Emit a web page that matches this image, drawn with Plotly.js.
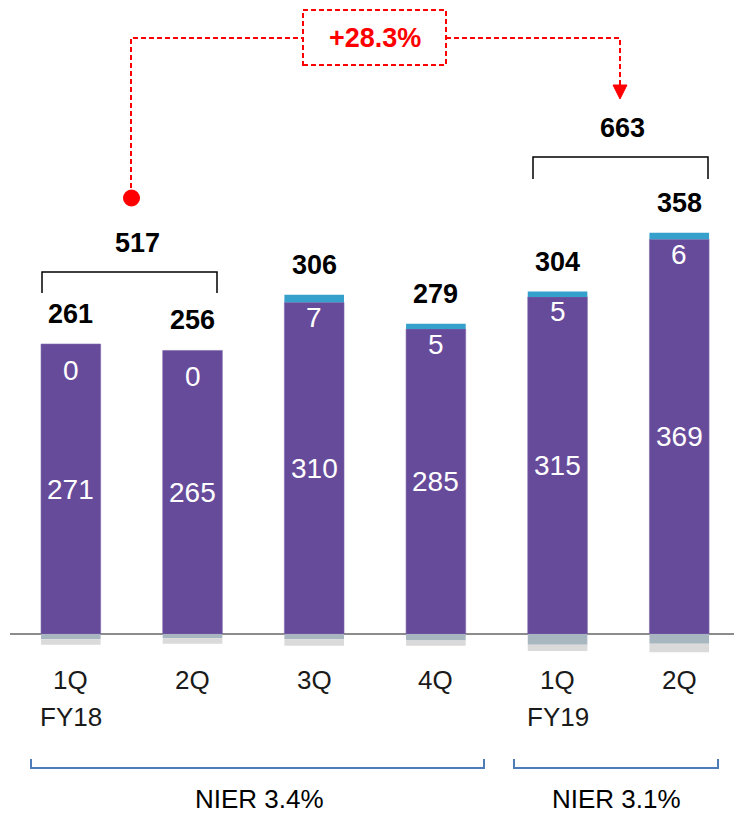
<!DOCTYPE html>
<html>
<head>
<meta charset="utf-8">
<script src="https://cdn.plot.ly/plotly-3.0.1.min.js"></script>
<style>html,body{margin:0;padding:0;background:#fff;}#chart{width:734px;height:813px;}</style>
</head>
<body>
<div id="chart"></div>
<script>
// ---- data ----
var quarters = ['1Q', '2Q', '3Q', '4Q', '1Q', '2Q'];
var fiscalYears = ['FY18', '', '', '', 'FY19', ''];
var mainValues = [271, 265, 310, 285, 315, 369];
var topValues = [0, 0, 7, 5, 5, 6];
var negValuesA = [-5, -4, -5, -6, -10, -9];
var negValuesB = [-5, -5, -6, -5, -6, -8];
var totals = [261, 256, 306, 279, 304, 358];
var halfYearTotals = [517, 663];
var growthLabel = '+28.3%';
var nierLabels = ['NIER 3.4%', 'NIER 3.1%'];

// ---- layout helpers ----
var W = 734, H = 813, ML = 10, MT = 0, PW = 724, PH = 660;
function px(x) { return (x - ML) / PW; }
function py(y) { return (MT + PH - y) / PH; }

var xs = quarters.map(function (_, i) { return i; });
var FONT = 'Liberation Sans, Arial, Helvetica, sans-serif';

var traces = [
  { type: 'bar', x: xs, y: mainValues, marker: { color: '#674b9b', line: { color: '#7d68ab', width: 0.6 } }, width: 0.49, hoverinfo: 'none' },
  { type: 'bar', x: xs, y: topValues, marker: { color: '#35a0cb' }, width: 0.49, hoverinfo: 'none' },
  { type: 'bar', x: xs, y: negValuesA, marker: { color: '#a8b6c0' }, width: 0.49, hoverinfo: 'none' },
  { type: 'bar', x: xs, y: negValuesB, marker: { color: '#dadada' }, width: 0.49, hoverinfo: 'none' }
];

function ann(o) {
  o.showarrow = false; o.xanchor = 'center'; o.yanchor = 'middle'; o.borderpad = 0;
  return o;
}

var annotations = [];
xs.forEach(function (i) {
  var top = mainValues[i] + topValues[i];
  annotations.push(ann({ x: i, y: top, xref: 'x', yref: 'y', text: String(totals[i]),
    yshift: 30, font: { family: FONT, size: 27, color: '#000', weight: 'bold' } }));
  annotations.push(ann({ x: i, y: mainValues[i], xref: 'x', yref: 'y', text: String(topValues[i]),
    yshift: topValues[i] > 0 ? -15 : -26, font: { family: FONT, size: 28, color: '#fff' } }));
  annotations.push(ann({ x: i, y: mainValues[i] / 2, xref: 'x', yref: 'y', text: String(mainValues[i]),
    font: { family: FONT, size: 28, color: '#fff' } }));
  annotations.push(ann({ x: i, y: py(680), xref: 'x', yref: 'paper', text: quarters[i],
    font: { family: FONT, size: 26, color: '#1a1a1a' } }));
  if (fiscalYears[i]) {
    annotations.push(ann({ x: i, y: py(717), xref: 'x', yref: 'paper', text: fiscalYears[i],
      font: { family: FONT, size: 26, color: '#1a1a1a' } }));
  }
});
// half-year totals
annotations.push(ann({ x: px(137), y: py(243), xref: 'paper', yref: 'paper', text: String(halfYearTotals[0]),
  font: { family: FONT, size: 27, color: '#000', weight: 'bold' } }));
annotations.push(ann({ x: px(622), y: py(128), xref: 'paper', yref: 'paper', text: String(halfYearTotals[1]),
  font: { family: FONT, size: 27, color: '#000', weight: 'bold' } }));
// growth
annotations.push(ann({ x: px(374.5), y: py(38), xref: 'paper', yref: 'paper', text: growthLabel,
  font: { family: FONT, size: 27, color: '#ff0000', weight: 'bold' } }));
// NIER
annotations.push(ann({ x: px(259), y: py(799), xref: 'paper', yref: 'paper', text: nierLabels[0],
  font: { family: FONT, size: 26, color: '#000' } }));
annotations.push(ann({ x: px(616), y: py(799), xref: 'paper', yref: 'paper', text: nierLabels[1],
  font: { family: FONT, size: 26, color: '#000' } }));

function P(pts) {
  return pts.map(function (p, k) { return (k ? 'L' : 'M') + px(p[0]) + ',' + py(p[1]); }).join(' ');
}
var red = '#ff0000';
var redDash = { color: red, width: 2, dash: '5px,3px' };
var shapes = [
  // brackets over half years
  { type: 'path', xref: 'paper', yref: 'paper', path: P([[42, 293], [42, 272], [217, 272], [217, 293]]), line: { color: '#000', width: 1.5 } },
  { type: 'path', xref: 'paper', yref: 'paper', path: P([[533, 179], [533, 157], [708, 157], [708, 179]]), line: { color: '#000', width: 1.5 } },
  // red connector
  { type: 'path', xref: 'paper', yref: 'paper', path: P([[131, 196], [131, 38], [303, 38]]), line: redDash },
  { type: 'rect', xref: 'paper', yref: 'paper', x0: px(303), x1: px(446), y0: py(65), y1: py(10), line: redDash },
  { type: 'path', xref: 'paper', yref: 'paper', path: P([[446, 38], [620, 38], [620, 86]]), line: redDash },
  { type: 'path', xref: 'paper', yref: 'paper', path: P([[613, 85], [627, 85], [620, 99]]) + ' Z', fillcolor: red, line: { color: red, width: 1 } },
  { type: 'circle', xref: 'paper', yref: 'paper', x0: px(123.5), x1: px(139.5), y0: py(206), y1: py(190), fillcolor: red, line: { color: red, width: 1 } },
  // NIER brackets
  { type: 'path', xref: 'paper', yref: 'paper', path: P([[31, 759], [31, 768], [484, 768], [484, 759]]), line: { color: '#4d7cb8', width: 2 } },
  { type: 'path', xref: 'paper', yref: 'paper', path: P([[514, 759], [514, 768], [718, 768], [718, 759]]), line: { color: '#4d7cb8', width: 2 } }
];

var layout = {
  width: W, height: H,
  margin: { l: ML, r: W - ML - PW, t: MT, b: H - MT - PH, pad: 0 },
  paper_bgcolor: '#fff', plot_bgcolor: '#fff',
  barmode: 'relative',
  showlegend: false,
  xaxis: { range: [-0.5, 5.45], showticklabels: false, showgrid: false, zeroline: false, showline: false, ticks: '', fixedrange: true },
  yaxis: { range: [-24.3, 592.5], showticklabels: false, showgrid: false, zeroline: true, zerolinecolor: '#8c8c8c', zerolinewidth: 2, ticks: '', fixedrange: true },
  annotations: annotations,
  shapes: shapes
};

Plotly.newPlot('chart', traces, layout, { staticPlot: true, displayModeBar: false });
</script>
</body>
</html>
